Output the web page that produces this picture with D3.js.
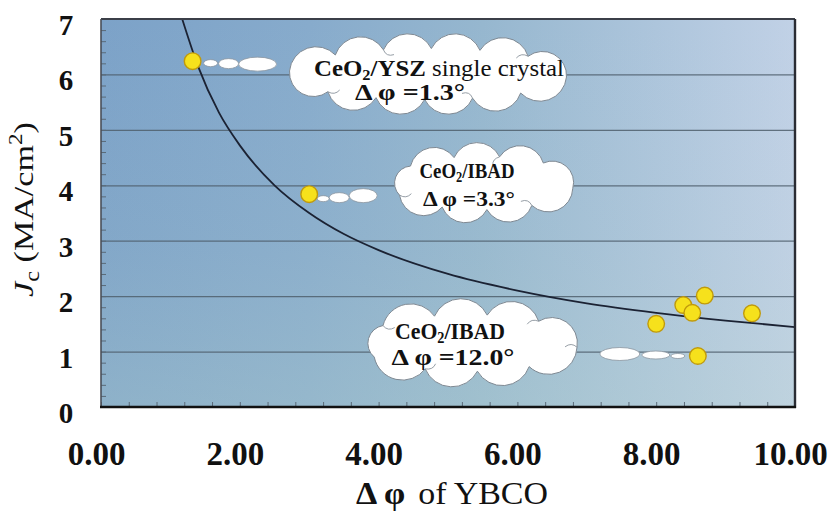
<!DOCTYPE html>
<html>
<head>
<meta charset="utf-8">
<script src="https://cdn.jsdelivr.net/npm/d3@7"></script>
<style>
  html, body { margin: 0; padding: 0; background: #fff; }
  svg { display: block; }
</style>
</head>
<body>
<svg id="chart" width="828" height="517"></svg>
<script>
// Measured Jc versus in-plane misalignment of YBCO
const dphiYBCO = [1.32, 3.0, 8.0, 8.39, 8.52, 8.70, 9.38, 8.60];
const jcValues = [6.24, 3.84, 1.50, 1.84, 1.70, 2.01, 1.69, 0.92];

// Trend curve, sampled along its length
const trendX = [1.17, 1.4, 1.7, 2.0, 2.5, 3.0, 3.5, 4.0, 5.0, 6.0, 7.0, 8.0, 9.0, 10.0];
const trendY = [7.0, 6.14, 5.31, 4.72, 4.00, 3.50, 3.12, 2.83, 2.40, 2.10, 1.87, 1.70, 1.56, 1.44];

// Axis ticks
const xTickValues = [0, 2, 4, 6, 8, 10];
const xTickLabels = ["0.00", "2.00", "4.00", "6.00", "8.00", "10.00"];
const yTickValues = [0, 1, 2, 3, 4, 5, 6, 7];
const yTickLabels = ["0", "1", "2", "3", "4", "5", "6", "7"];

// Annotation texts: substrate and its in-plane spread
const noteSubstrate = ["/YSZ", "/IBAD", "/IBAD"];
const noteExtra = [" single crystal", "", ""];
const noteSpread = ["1.3", "3.3", "12.0"];
const notePointIndex = [0, 1, 7];

const svg = d3.select("#chart");
const plot = { left: 101, right: 795, top: 19, bottom: 407 };

const x = d3.scaleLinear().domain([0, 10]).range([plot.left, plot.right]);
const y = d3.scaleLinear().domain([0, 7]).range([plot.bottom, plot.top]);

const serif = "Liberation Serif";
const ink = "#111";

const defs = svg.append("defs");

// Plot background: steel blue on the left fading to pale blue on the right
const gH = defs.append("linearGradient").attr("id", "bgH")
  .attr("x1", "0").attr("x2", "1").attr("y1", "0").attr("y2", "0");
[["0", "#7ca2c8"], ["0.3", "#87abcc"], ["0.55", "#96b7cf"], ["0.8", "#adc5dc"], ["1", "#c1d1e6"]]
  .forEach(([o, c]) => gH.append("stop").attr("offset", o).attr("stop-color", c));
const gV = defs.append("linearGradient").attr("id", "bgV")
  .attr("x1", "0").attr("x2", "0").attr("y1", "0").attr("y2", "1");
gV.append("stop").attr("offset", "0").attr("stop-color", "#b6d2d0").attr("stop-opacity", 0);
gV.append("stop").attr("offset", "0.6").attr("stop-color", "#b6d2cc").attr("stop-opacity", 0.12);
gV.append("stop").attr("offset", "1").attr("stop-color", "#b8d6cc").attr("stop-opacity", 0.3);

defs.append("clipPath").attr("id", "plotClip")
  .append("rect").attr("x", plot.left).attr("y", plot.top)
  .attr("width", plot.right - plot.left).attr("height", plot.bottom - plot.top);

svg.append("rect").attr("x", plot.left).attr("y", plot.top)
  .attr("width", plot.right - plot.left).attr("height", plot.bottom - plot.top)
  .attr("fill", "url(#bgH)");
svg.append("rect").attr("x", plot.left).attr("y", plot.top)
  .attr("width", plot.right - plot.left).attr("height", plot.bottom - plot.top)
  .attr("fill", "url(#bgV)");

// Horizontal grid lines
svg.append("g").attr("class", "grid")
  .attr("transform", `translate(${plot.left},0)`)
  .call(d3.axisLeft(y).tickValues([1, 2, 3, 4, 5, 6]).tickSize(-(plot.right - plot.left)).tickFormat(""))
  .call(g => g.select(".domain").remove())
  .call(g => g.selectAll("line").attr("stroke", "#4f5f6c").attr("stroke-width", 1.2).attr("stroke-opacity", 0.85));

// Minor ticks, drawn inward
svg.append("g")
  .attr("transform", `translate(${plot.left},0)`)
  .call(d3.axisRight(y).tickValues(d3.range(0, 7.001, 0.2)).tickSize(5).tickFormat(""))
  .call(g => g.select(".domain").remove())
  .call(g => g.selectAll("line").attr("stroke", "#5a6a78").attr("stroke-width", 1));
svg.append("g")
  .attr("transform", `translate(0,${plot.bottom})`)
  .call(d3.axisTop(x).tickValues(d3.range(0, 10.001, 0.4)).tickSize(5).tickFormat(""))
  .call(g => g.select(".domain").remove())
  .call(g => g.selectAll("line").attr("stroke", "#5a6a78").attr("stroke-width", 1));

// Trend curve
const trend = trendX.map((v, i) => [v, trendY[i]]);
svg.append("path")
  .datum(trend)
  .attr("clip-path", "url(#plotClip)")
  .attr("fill", "none")
  .attr("stroke", "#1b2233")
  .attr("stroke-width", 1.8)
  .attr("d", d3.line().x(d => x(d[0])).y(d => y(d[1])).curve(d3.curveMonotoneX));

// Cloud outline: n equal lobes spaced by arc length around an ellipse,
// sized so that the lobes reach the requested half-width / half-height.
function cloudGeometry(cx, cy, halfW, halfH, n, phase) {
  let s = 15, rx, ry;
  for (let it = 0; it < 8; it++) {
    rx = halfW - s; ry = halfH - s;
    const h = ((rx - ry) / (rx + ry)) ** 2;
    const P = Math.PI * (rx + ry) * (1 + 3 * h / (10 + Math.sqrt(4 - 3 * h)));
    s = 0.32 * (P / n);
  }
  const fine = d3.range(721).map(i => {
    const a = phase + i * 2 * Math.PI / 720;
    return [cx + rx * Math.cos(a), cy + ry * Math.sin(a)];
  });
  const cum = [0];
  for (let i = 1; i < fine.length; i++)
    cum.push(cum[i - 1] + Math.hypot(fine[i][0] - fine[i - 1][0], fine[i][1] - fine[i - 1][1]));
  const total = cum[cum.length - 1];
  const pts = [];
  let j = 0;
  for (let k = 0; k <= n; k++) {
    const target = total * k / n;
    while (j < cum.length - 1 && cum[j] < target) j++;
    pts.push(fine[j]);
  }
  let d = `M${pts[0][0]},${pts[0][1]}`;
  for (let i = 1; i <= n; i++) {
    const [x0, y0] = pts[i - 1], [x1, y1] = pts[i];
    const r = Math.hypot(x1 - x0, y1 - y0) * 0.55;
    d += ` A${r},${r} 0 0 1 ${x1},${y1}`;
  }
  return { d: d + "Z", pts };
}

// Annotation layout (pixel geometry of each cloud and its two text lines:
// [x-centre offset, baseline offset, text width])
const clouds = [
  { cx: 428, cy: 74, w: 155, h: 41, n: 12, phase: 0.12, fs: 23,
    l1: [11, 2, 250], l2: [-18, 26, 110], folds: [2, 5, 8, 11],
    trail: [[18, 2, 7, 3.5], [36, 2.5, 10, 5], [65, 3, 19, 7]] },
  { cx: 482, cy: 183, w: 107, h: 41, n: 9, phase: 0.2, fs: 22,
    l1: [-15, -5, 95], l2: [-13, 23, 92], folds: [1, 4, 7],
    trail: [[14, 4.5, 6, 3], [30, 3.5, 10, 5], [54, 1.5, 14, 7]] },
  { cx: 469, cy: 343, w: 126, h: 45, n: 9, phase: 0.15, fs: 24,
    l1: [-19, -4, 110], l2: [-16, 22, 123], folds: [0, 3, 5, 8],
    trail: [[-78, -2, 20, 6.5], [-42, -1, 14, 4], [-20, 0, 7, 2.5]] }
];

const notes = svg.append("g").attr("class", "notes");
clouds.forEach((c, k) => {
  const pi = notePointIndex[k];
  const px = x(dphiYBCO[pi]), py = y(jcValues[pi]);
  c.trail.forEach(([dx, dy, erx, ery]) => {
    notes.append("ellipse")
      .attr("cx", px + dx).attr("cy", py + dy).attr("rx", erx).attr("ry", ery)
      .attr("fill", "#fff").attr("stroke", "#8c96a0").attr("stroke-width", 0.8);
  });
  const geo = cloudGeometry(c.cx, c.cy, c.w, c.h, c.n, c.phase);
  notes.append("path")
    .attr("d", geo.d)
    .attr("fill", "#fff").attr("stroke", "#7e8892").attr("stroke-width", 1);

  // small creases where lobes meet
  c.folds.forEach(fi => {
    const [fx, fy] = geo.pts[fi];
    const vx = c.cx - fx, vy = c.cy - fy, len = Math.hypot(vx, vy);
    const ux = vx / len, uy = vy / len;
    const ex = fx + ux * 12, ey = fy + uy * 10;
    notes.append("path")
      .attr("d", `M${fx},${fy} Q${fx + ux * 6 - uy * 5},${fy + uy * 6 + ux * 5} ${ex},${ey}`)
      .attr("fill", "none").attr("stroke", "#8a939c").attr("stroke-width", 0.9);
  });

  const t1 = notes.append("text")
    .attr("x", c.cx + c.l1[0] - c.l1[2] / 2).attr("y", c.cy + c.l1[1])
    .attr("textLength", c.l1[2]).attr("lengthAdjust", "spacingAndGlyphs")
    .attr("font-family", serif).attr("font-size", c.fs).attr("fill", ink);
  t1.append("tspan").attr("font-weight", "bold").text("CeO");
  t1.append("tspan").attr("font-weight", "bold").attr("font-size", c.fs * 0.66).attr("dy", c.fs * 0.18).text("2");
  t1.append("tspan").attr("font-weight", "bold").attr("dy", -c.fs * 0.18).text(noteSubstrate[k]);
  if (noteExtra[k]) t1.append("tspan").text(noteExtra[k]);

  notes.append("text")
    .attr("x", c.cx + c.l2[0] - c.l2[2] / 2).attr("y", c.cy + c.l2[1])
    .attr("textLength", c.l2[2]).attr("lengthAdjust", "spacingAndGlyphs")
    .attr("font-family", serif).attr("font-size", c.fs).attr("font-weight", "bold").attr("fill", ink)
    .text(`Δ φ =${noteSpread[k]}°`);
});

// Data points
svg.append("g").selectAll("circle")
  .data(dphiYBCO.map((v, i) => [v, jcValues[i]]))
  .join("circle")
  .attr("cx", d => x(d[0])).attr("cy", d => y(d[1])).attr("r", 8.3)
  .attr("fill", "#f6e11c").attr("stroke", "#c09a0c").attr("stroke-width", 1.4);

// Frame
svg.append("line").attr("x1", plot.left).attr("x2", plot.right).attr("y1", plot.top).attr("y2", plot.top)
  .attr("stroke", "#3b3f48").attr("stroke-width", 2);
svg.append("line").attr("x1", plot.left).attr("x2", plot.left).attr("y1", plot.top).attr("y2", plot.bottom)
  .attr("stroke", "#4a4f58").attr("stroke-width", 1.6);
svg.append("line").attr("x1", plot.right).attr("x2", plot.right).attr("y1", plot.top).attr("y2", plot.bottom + 1)
  .attr("stroke", "#2a2c33").attr("stroke-width", 2.4);
svg.append("line").attr("x1", plot.left - 1).attr("x2", plot.right + 1).attr("y1", plot.bottom).attr("y2", plot.bottom)
  .attr("stroke", "#111").attr("stroke-width", 2.6);

// Tick labels
svg.append("g")
  .attr("transform", `translate(0,${plot.bottom})`)
  .attr("font-family", serif)
  .call(d3.axisBottom(x).tickValues(xTickValues).tickSize(0).tickPadding(0)
    .tickFormat((d, i) => xTickLabels[i]))
  .attr("font-family", serif)
  .call(g => g.select(".domain").remove())
  .call(g => g.selectAll("text")
    .attr("font-family", serif).attr("font-size", 33).attr("font-weight", "bold").attr("fill", ink)
    .attr("dy", null).attr("y", 58).attr("x", -5));

svg.append("g")
  .attr("transform", `translate(66,0)`)
  .call(d3.axisLeft(y).tickValues(yTickValues).tickSize(0).tickPadding(0)
    .tickFormat((d, i) => yTickLabels[i]))
  .attr("font-family", serif)
  .call(g => g.select(".domain").remove())
  .call(g => g.selectAll("text")
    .attr("font-family", serif).attr("font-size", 29).attr("font-weight", "bold").attr("fill", ink)
    .attr("text-anchor", "middle").attr("x", 0).attr("dy", null).attr("y", 15.5));

// Axis titles
svg.append("text")
  .attr("x", 356).attr("y", 504)
  .attr("textLength", 192).attr("lengthAdjust", "spacingAndGlyphs")
  .attr("font-family", serif).attr("font-size", 31).attr("fill", ink)
  .call(t => {
    t.append("tspan").attr("font-weight", "bold").text("Δ φ");
    t.append("tspan").attr("dx", 12).text("of YBCO");
  });

const yt = svg.append("text")
  .attr("transform", "translate(33,297) rotate(-90)")
  .attr("textLength", 175).attr("lengthAdjust", "spacingAndGlyphs")
  .attr("font-family", serif).attr("font-size", 28).attr("fill", ink);
yt.append("tspan").attr("font-style", "italic").text("J");
yt.append("tspan").attr("font-size", 20).attr("dy", 6).text("c");
yt.append("tspan").attr("dy", -6).text(" (MA/cm");
yt.append("tspan").attr("font-size", 19).attr("dy", -11).text("2");
yt.append("tspan").attr("dy", 11).text(")");
</script>
</body>
</html>
